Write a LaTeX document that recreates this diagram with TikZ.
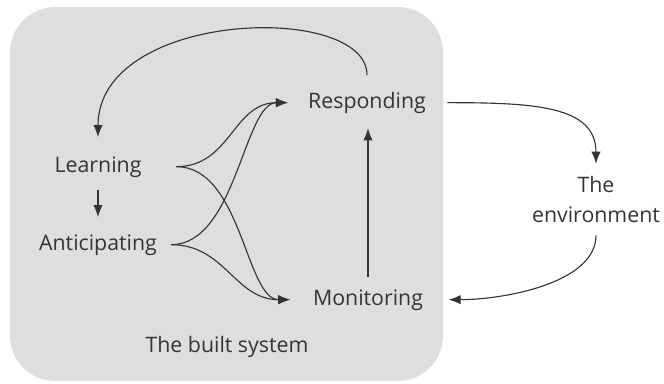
\documentclass[tikz,border=0pt]{standalone}
\usepackage{fontspec}
\setmainfont{Open Sans}
\usepackage{xcolor}
\usepackage{tikz}
\usetikzlibrary{arrows.meta,positioning,calc}
\definecolor{sysgray}{HTML}{DEDEDE}
\definecolor{inkgray}{HTML}{343434}
\tikzset{
  stagelabel/.style={align=center, inner sep=0pt, text=inkgray, font=\fontsize{16}{23}\selectfont},
  stageline/.style={stagelabel, anchor=base, text height=12pt, text depth=4pt},
  flowarrow/.style={-{Latex[length=9pt,width=7pt]}, line width=0.85pt, draw=inkgray},
  systemarea/.style={fill=sysgray, rounded corners=34pt}
}

\begin{document}
\begin{tikzpicture}[x=0.75pt, y=-0.75pt]
\useasboundingbox (0,0) rectangle (664,383);
\path[systemarea] (10,7) rectangle (443,381);

\node[stageline] (learn) at (98,172) {Learning};
\node[stageline] (antic) at (98,250) {Anticipating};
\node[stageline] (resp) at (367,108) {Responding};
\node[stageline] (monit) at (368,305) {Monitoring};
\node[stagelabel] (envir) at (596,199.5) {The\\environment};
\node[stageline] (built) at (227,352) {The built system};

\draw[flowarrow, shorten <=9.5pt, shorten >=12.5pt] (learn.south) -- (antic.north);
\draw[flowarrow, shorten <=12.5pt, shorten >=14pt] (resp.north) .. controls +(0,-90) and +(0,-146) .. (learn.north);
\draw[flowarrow, shorten <=9pt, shorten >=11pt] (monit.north) -- (monit.north |- resp.south);

% fork into responding and monitoring
\draw[flowarrow, shorten <=26pt, shorten >=15pt] (learn.east) .. controls +(89,0) and +(-75,0) .. (resp.west);
\draw[flowarrow, shorten <=26pt, shorten >=17pt] (learn.east) .. controls +(100,0) and +(-67,0) .. (monit.west);
\draw[flowarrow, shorten <=10.5pt, shorten >=15pt] (antic.east) .. controls +(79,0) and +(-64,0) .. (resp.west);
\draw[flowarrow, shorten <=10.5pt, shorten >=17pt] (antic.east) .. controls +(68,0) and +(-78,0) .. (monit.west);

\draw[flowarrow, shorten <=16pt, shorten >=9pt] (resp.east) .. controls +(108,0) and +(0,-70) .. (envir.north);
\draw[flowarrow, shorten <=9pt, shorten >=19pt] (envir.south) .. controls +(0,60) and +(80,0) .. (monit.east);
\end{tikzpicture}
\end{document}
